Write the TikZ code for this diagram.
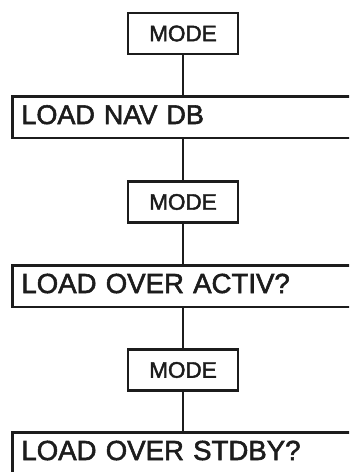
\documentclass[tikz,border=0pt]{standalone}
\usepackage{fontspec}
\setmainfont[FakeBold=2]{Liberation Sans}
\definecolor{ink}{HTML}{1C1C1C}
\begin{document}
\begin{tikzpicture}[x=1pt,y=-1pt,
  modebox/.style={draw=ink,text=ink,line width=2.8pt,minimum width=110pt,minimum height=41pt,inner sep=0pt,
    font=\fontsize{22.5}{24}\selectfont},
  widebox/.style={draw=ink,text=ink,line width=2.8pt,anchor=base west,inner ysep=0pt,inner xsep=9pt,
    text width=330pt,text height=27.5pt,text depth=14pt,align=left,font=\fontsize{27.6}{30}\selectfont},
  link/.style={draw=ink,line width=2.8pt}]
\clip (0,0) rectangle (349,472);
\fill[white] (0,0) rectangle (349,472);
\node[modebox] (m1) at (183,33.5) {MODE};
\node[widebox,font=\fontsize{27}{30}\selectfont] (nav) at (11,124) {LOAD NAV DB};
\node[modebox] (m2) at (183,202) {MODE};
\node[widebox] (act) at (11,293) {LOAD OVER ACTIV?};
\node[modebox] (m3) at (183,370) {MODE};
\node[widebox] (stb) at (11,460) {LOAD OVER STDBY?};
\draw[link] (m1.south) -- (m1.south |- nav.north);
\draw[link] (m1.south |- nav.south) -- (m2.north);
\draw[link] (m2.south) -- (m2.south |- act.north);
\draw[link] (m2.south |- act.south) -- (m3.north);
\draw[link] (m3.south) -- (m3.south |- stb.north);
\end{tikzpicture}
\end{document}
